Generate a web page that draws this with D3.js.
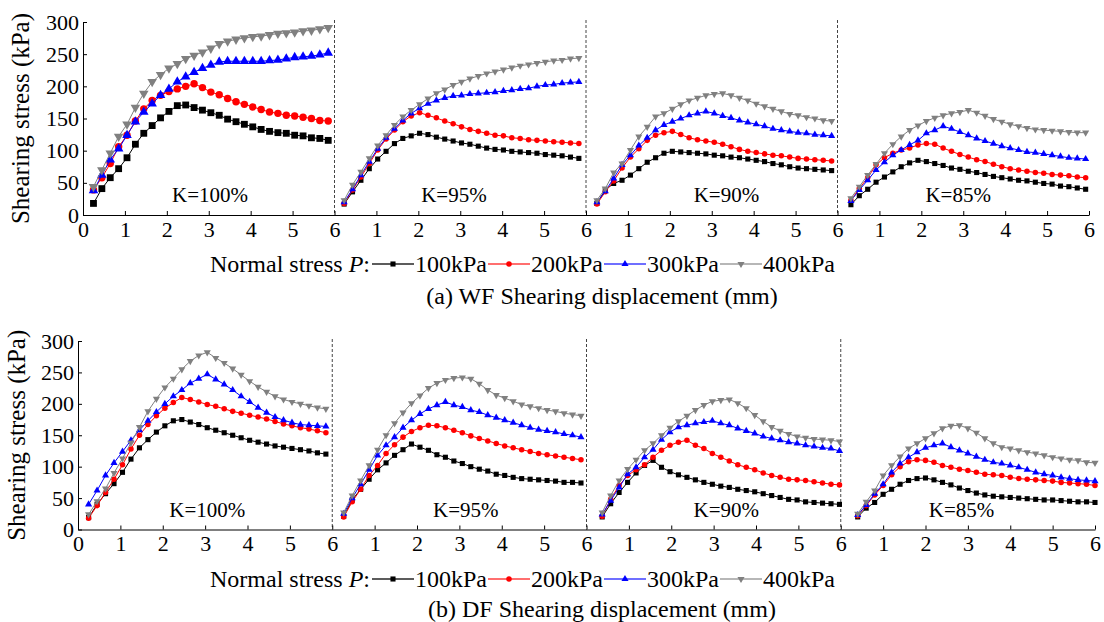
<!DOCTYPE html>
<html><head><meta charset="utf-8">
<script src="https://cdn.jsdelivr.net/npm/d3@7"></script>
<style>
html,body{margin:0;padding:0;background:#fff;}
svg text{font-family:"Liberation Serif","Times New Roman",Times,serif;fill:#000;}
</style></head><body>
<svg id="chart" width="1104" height="622"></svg>
<script>
// ---------------- data ----------------
const kLabels = ["K=100%", "K=95%", "K=90%", "K=85%"];
const pressureLabels = ["100kPa", "200kPa", "300kPa", "400kPa"];
const xTickValues = [0,1,2,3,4,5,6,7,8,9,10,11,12,13,14,15,16,17,18,19,20,21,22,23,24];
const xTickLabels = ["0","1","2","3","4","5","6","1","2","3","4","5","6","1","2","3","4","5","6","1","2","3","4","5","6"];
const yTickValues = [0, 50, 100, 150, 200, 250, 300];
// shearing displacement (mm) measured from the first reading of each test
const displacementSteps = [0,0.2,0.4,0.6,0.8,1.0,1.2,1.4,1.6,1.8,2.0,2.2,2.4,2.6,2.8,3.0,3.2,3.4,3.6,3.8,4.0,4.2,4.4,4.6,4.8,5.0,5.2,5.4,5.6];
const firstReadingWF = [0.25, 0.23, 0.26, 0.32];
const firstReadingDF = [0.25, 0.27, 0.37, 0.40];
// label anchor (mm, kPa) of the K annotation in each sub-panel
const kLabelXWF = [3.03, 2.85, 3.35, 2.88];
const kLabelXDF = [3.05, 3.15, 3.30, 2.85];
const kLabelY = 32;

// (a) WF
const wfK100P100 = [18,41,58,72,89,110,127,139,151,161,170,171,167,163,159,155,149,145,141,137,133,130,128,127,124,123,120,119,116];
const wfK100P200 = [39,58,80,106,124,146,165,178,186,192,196,200,204,198,191,187,181,176,172,168,164,160,158,155,154,152,150,147,146];
const wfK100P300 = [38,62,86,103,124,145,160,173,186,196,207,215,222,228,233,238,239,239,239,239,239,240,241,243,245,246,247,249,252];
const wfK100P400 = [44,70,96,122,141,167,189,207,218,228,235,243,248,253,259,266,270,273,275,277,278,280,282,283,284,286,287,289,291];

const wfK95P100 = [17,36,54,72,87,99,111,119,123,127,125,121,118,115,112,110,107,104,102,101,99,98,97,96,94,93,92,90,88];
const wfK95P200 = [18,39,59,80,101,118,132,145,154,159,155,151,146,142,137,133,130,127,124,123,120,119,117,116,115,114,113,112,111];
const wfK95P300 = [20,40,62,83,103,120,134,147,158,166,173,178,182,185,186,188,189,190,191,193,194,196,197,200,202,203,205,206,207];
const wfK95P400 = [23,47,67,88,108,124,140,153,163,172,181,189,195,202,207,212,216,220,223,226,229,232,234,236,238,240,241,243,244];

const wfK90P100 = [18,39,49,54,62,72,82,89,96,99,98,97,96,95,93,92,90,89,87,85,83,80,78,75,73,72,71,70,69];
const wfK90P200 = [17,36,53,73,90,103,116,124,128,130,125,120,117,115,113,110,106,102,99,97,95,93,92,90,88,87,86,85,84];
const wfK90P300 = [20,37,57,78,93,108,120,132,140,145,150,155,158,161,158,154,151,147,144,141,138,134,132,130,128,127,125,124,123];
const wfK90P400 = [23,41,66,80,101,122,137,153,158,165,172,178,182,186,188,189,186,182,178,173,169,165,161,157,155,152,150,147,146];

const wfK85P100 = [16,30,40,51,59,67,75,81,85,83,80,77,73,71,68,66,63,60,58,56,54,53,51,49,48,45,44,42,40];
const wfK85P200 = [23,41,58,78,89,96,101,104,109,111,110,104,99,94,90,86,83,79,75,72,70,68,66,65,63,62,61,59,58];
const wfK85P300 = [22,39,54,70,82,93,101,109,116,127,132,138,134,129,124,119,115,111,107,104,101,98,97,95,93,91,89,88,87];
const wfK85P400 = [26,44,62,79,96,110,122,132,139,146,151,155,158,160,163,159,154,149,145,141,138,135,133,132,131,130,129,128,128];

// (b) DF
const dfK100P100 = [19,40,57,73,91,112,130,143,155,165,173,175,171,167,162,158,154,150,146,142,139,136,133,131,129,127,125,122,120];
const dfK100P200 = [18,38,59,80,103,128,150,167,181,193,202,210,207,203,199,196,192,188,185,182,179,176,172,168,165,162,160,157,154];
const dfK100P300 = [40,62,86,106,124,142,158,173,187,200,212,222,233,240,247,239,231,222,212,203,194,186,179,174,170,167,166,165,164];
const dfK100P400 = [24,45,65,90,113,138,163,188,208,226,240,255,268,277,282,273,265,256,246,236,227,219,212,207,203,200,197,194,192];

const dfK95P100 = [21,47,64,80,95,106,118,127,136,131,126,119,115,109,105,100,96,93,88,86,83,81,80,79,78,77,75,75,74];
const dfK95P200 = [20,44,64,86,102,121,135,147,156,162,166,165,162,158,154,149,145,141,137,133,130,127,124,121,119,117,115,113,111];
const dfK95P300 = [25,50,72,95,118,134,147,162,174,184,192,198,203,198,195,190,187,182,178,174,170,166,162,159,157,155,152,150,147];
const dfK95P400 = [27,54,78,102,127,150,169,186,201,213,225,233,238,241,242,240,232,222,214,209,204,199,196,193,190,188,185,183,181];

const dfK90P100 = [20,41,59,75,90,102,110,99,92,87,83,79,75,72,69,67,64,62,60,57,54,51,48,47,44,43,42,41,40];
const dfK90P200 = [21,48,70,86,95,103,115,126,134,139,142,134,129,121,115,109,103,99,95,90,86,83,80,79,78,76,74,72,71];
const dfK90P300 = [24,46,67,88,99,115,127,143,155,163,166,169,171,173,169,166,161,157,153,148,145,142,139,137,134,132,130,129,125];
const dfK90P400 = [27,54,78,96,111,126,137,150,162,172,181,190,198,204,206,207,201,193,182,172,163,157,152,148,146,144,143,142,140];

const dfK85P100 = [20,34,43,56,64,72,78,81,82,79,75,71,66,62,58,55,53,52,51,50,49,48,47,47,46,45,44,44,43];
const dfK85P200 = [22,38,55,70,87,100,108,111,110,107,102,99,96,94,91,88,87,86,83,81,80,79,78,77,75,74,73,72,70];
const dfK85P300 = [23,39,57,72,91,105,115,123,130,134,137,131,126,121,116,111,107,105,102,99,95,91,88,86,83,81,79,78,77];
const dfK85P400 = [25,44,62,86,102,116,129,137,145,153,161,165,166,161,154,145,137,131,129,126,123,121,118,115,113,111,110,107,106];

const wfPanels = [
  [wfK100P100, wfK100P200, wfK100P300, wfK100P400],
  [wfK95P100, wfK95P200, wfK95P300, wfK95P400],
  [wfK90P100, wfK90P200, wfK90P300, wfK90P400],
  [wfK85P100, wfK85P200, wfK85P300, wfK85P400]
];
const dfPanels = [
  [dfK100P100, dfK100P200, dfK100P300, dfK100P400],
  [dfK95P100, dfK95P200, dfK95P300, dfK95P400],
  [dfK90P100, dfK90P200, dfK90P300, dfK90P400],
  [dfK85P100, dfK85P200, dfK85P300, dfK85P400]
];

// ---------------- styles ----------------
const colors = ["#000000", "#ff0000", "#0000ff", "#808080"];
const symbolTypes = [d3.symbolSquare, d3.symbolCircle, d3.symbolTriangle, d3.symbolTriangle];
const symbolRotate = [0, 0, 0, 180];
const baseSizes = [26, 24, 22, 22];

const svg = d3.select("#chart");

function drawBlock(cfg) {
  const g = svg.append("g");
  const x = d3.scaleLinear().domain([0, 24]).range([cfg.x0, cfg.x1]);
  const y = d3.scaleLinear().domain([0, 300]).range([cfg.yBottom, cfg.yTop]);

  // dashed separators
  [6, 12, 18].forEach(v => {
    g.append("line")
      .attr("x1", x(v)).attr("x2", x(v))
      .attr("y1", cfg.yTop - 2).attr("y2", cfg.yBottom)
      .attr("stroke", "#444").attr("stroke-width", 1)
      .attr("stroke-dasharray", "3,2");
  });

  // axes
  const xAxis = d3.axisBottom(x).tickValues(xTickValues)
    .tickFormat((d, i) => xTickLabels[i]).tickSizeInner(-4).tickSizeOuter(0).tickPadding(6);
  const gx = g.append("g").attr("transform", `translate(0,${cfg.yBottom})`).call(xAxis);
  const yAxis = d3.axisLeft(y).tickValues(yTickValues).tickSizeInner(-4).tickSizeOuter(0).tickPadding(4);
  const gy = g.append("g").attr("transform", `translate(${cfg.x0},0)`).call(yAxis);
  [gx, gy].forEach(a => {
    a.attr("font-family", null);
    a.selectAll("text").style("font-size", "22px").style("font-family", '"Liberation Serif","Times New Roman",serif').attr("fill", "#000");
    a.selectAll("path,line").attr("stroke", "#000");
  });

  // series
  cfg.panels.forEach((series, p) => {
    const sizeMul = p === 0 && cfg.bigFirst ? 1.8 : 1.0;
    series.forEach((vals, s) => {
      const pts = vals.map((v, i) => [6 * p + cfg.firstReading[p] + displacementSteps[i], v]);
      g.append("path")
        .attr("d", d3.line().x(d => x(d[0])).y(d => y(d[1]))(pts))
        .attr("fill", "none").attr("stroke", colors[s]).attr("stroke-width", 1);
      const sym = d3.symbol().type(symbolTypes[s]).size(baseSizes[s] * sizeMul);
      g.selectAll(null).data(pts).enter().append("path")
        .attr("d", sym)
        .attr("transform", d => `translate(${x(d[0])},${y(d[1])}) rotate(${symbolRotate[s]})`)
        .attr("fill", colors[s]);
    });
    g.append("text")
      .attr("x", x(6 * p + cfg.kLabelX[p])).attr("y", y(kLabelY))
      .attr("dy", "0.35em").attr("text-anchor", "middle")
      .style("font-size", "21px").text(kLabels[p]);
  });

  // y title
  g.append("text")
    .attr("transform", `translate(${cfg.titleX},${(cfg.yTop + cfg.yBottom) / 2}) rotate(-90)`)
    .attr("text-anchor", "middle").style("font-size", "25px")
    .text("Shearing stress (kPa)");

  // legend
  let cx = 210;
  const lt = g.append("text").attr("x", cx).attr("y", cfg.legendY).style("font-size", "24px");
  lt.append("tspan").text("Normal stress ");
  lt.append("tspan").style("font-style", "italic").text("P");
  lt.append("tspan").text(":");
  cx += lt.node().getComputedTextLength() + 2;
  pressureLabels.forEach((lab, s) => {
    const w = 42;
    g.append("line").attr("x1", cx).attr("x2", cx + w)
      .attr("y1", cfg.legendY - 8).attr("y2", cfg.legendY - 8)
      .attr("stroke", colors[s]).attr("stroke-width", 1.5).attr("opacity", s === 0 ? 0.85 : 0.75);
    g.append("path").attr("d", d3.symbol().type(symbolTypes[s]).size(baseSizes[s]))
      .attr("transform", `translate(${cx + w / 2},${cfg.legendY - 8}) rotate(${symbolRotate[s]})`)
      .attr("fill", colors[s]);
    cx += w + 1;
    const t = g.append("text").attr("x", cx).attr("y", cfg.legendY).style("font-size", "24px").text(lab);
    cx += t.node().getComputedTextLength() + 1;
  });

  // caption
  g.append("text").attr("x", 602).attr("y", cfg.captionY).attr("text-anchor", "middle")
    .style("font-size", "24px").text(cfg.caption);
}

drawBlock({
  x0: 83, x1: 1089, yBottom: 215, yTop: 22, panels: wfPanels, firstReading: firstReadingWF,
  kLabelX: kLabelXWF, bigFirst: true, titleX: 29, legendY: 272, captionY: 304,
  caption: "(a) WF Shearing displacement (mm)"
});
drawBlock({
  x0: 78, x1: 1095, yBottom: 529.5, yTop: 341, panels: dfPanels, firstReading: firstReadingDF,
  kLabelX: kLabelXDF, bigFirst: false, titleX: 25, legendY: 587, captionY: 617,
  caption: "(b) DF Shearing displacement (mm)"
});
</script>
</body></html>
